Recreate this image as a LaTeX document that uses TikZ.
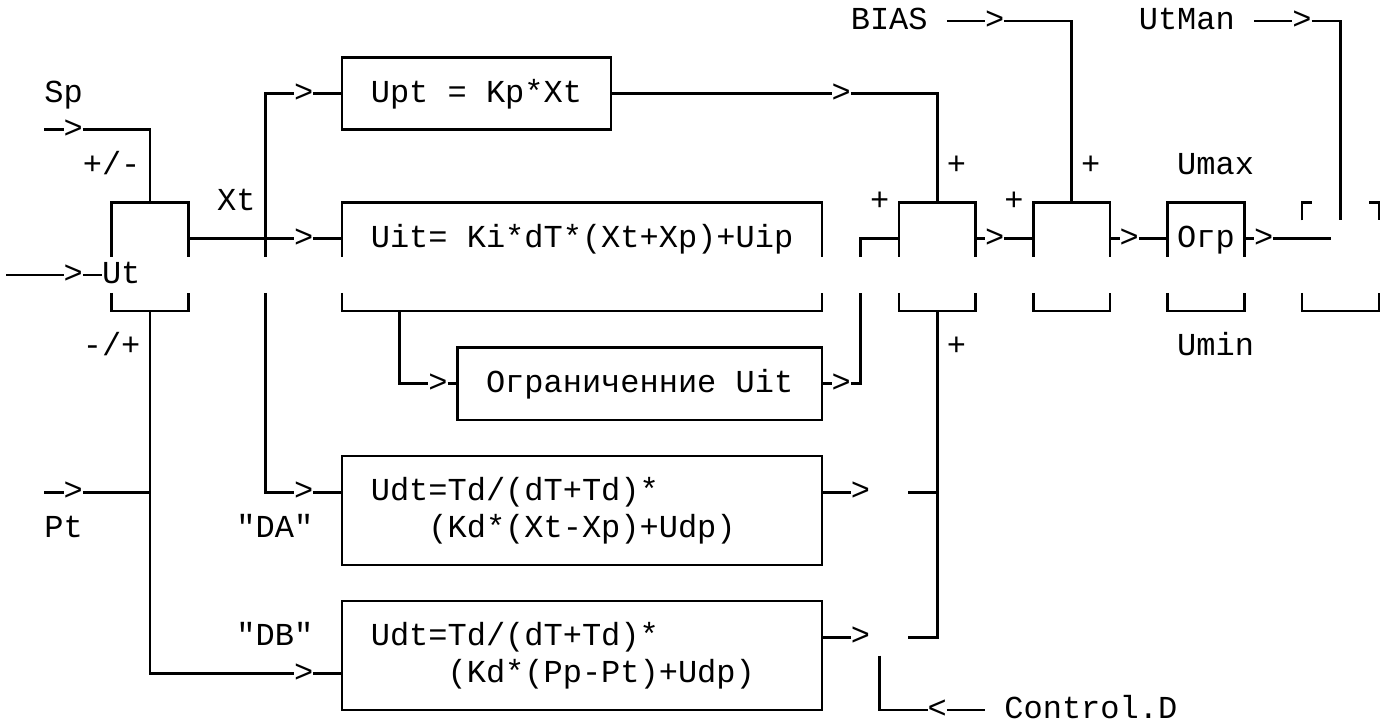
\documentclass[tikz,border=0pt]{standalone}
\usepackage{fontspec}
\newfontfamily\mono{Liberation Mono}
\begin{document}
\begin{tikzpicture}[x=19.2pt,y=-36.26pt,
  ln/.style={line width=2.6pt},
  txt/.style={font=\mono\fontsize{32pt}{36.26pt}\selectfont, inner sep=0pt, outer sep=0pt,
              anchor=west, text height=17.06pt, text depth=0pt},
  arr/.style={txt, anchor=center},
  blk/.style={draw, line width=2.6pt, inner sep=0pt, outer sep=0pt},
  cw/.style={minimum width=#1*19.2pt},
  rh/.style={minimum height=#1*36.26pt}]
\useasboundingbox (-0.8125,-0.579) rectangle (71.74,19.388);

% ---- blocks with full outline
\node[blk,cw=14,rh=2] (upt)  at (24,2)    {};
\node[blk,cw=19,rh=2] (lim)  at (32.5,10) {};
\node[blk,cw=25,rh=3] (udta) at (29.5,13.5) {};
\node[blk,cw=25,rh=3] (udtb) at (29.5,17.5) {};

% ---- texts
\node[txt] (tbias)  at (43.5,0) {BIAS};
\node[txt] (tutman) at (58.5,0) {UtMan};
\node[txt] (tsp)    at (1.5,2)  {Sp};
\node[txt] (tupt)   at (18.5,2) {Upt = Kp*Xt};
\node[txt] (tpm)    at (3.5,4)  {+/-};
\node[txt] (tp1)    at (48.5,4) {+};
\node[txt] (tp2)    at (55.5,4) {+};
\node[txt] (tumax)  at (60.5,4) {Umax};
\node[txt] (txt)    at (10.5,5) {Xt};
\node[txt] (tp3)    at (44.5,5) {+};
\node[txt] (tp4)    at (51.5,5) {+};
\node[txt] (tuit)   at (18.5,6) {Uit= Ki*dT*(Xt+Xp)+Uip};
\node[txt] (togr)   at (60.5,6) {Огр};
\node[txt] (tut)    at (4.5,7)  {Ut};
\node[txt] (tmp)    at (3.5,9)  {-/+};
\node[txt] (tp5)    at (48.5,9) {+};
\node[txt] (tumin)  at (60.5,9) {Umin};
\node[txt] (tlim)   at (24.5,10) {Ограниченние Uit};
\node[txt] (tudta1) at (18.5,13) {Udt=Td/(dT+Td)*};
\node[txt] (tpt)    at (1.5,14) {Pt};
\node[txt] (tda)    at (11.5,14) {"DA"};
\node[txt] (tudta2) at (21.5,14) {(Kd*(Xt-Xp)+Udp)};
\node[txt] (tdb)    at (11.5,17) {"DB"};
\node[txt] (tudtb1) at (18.5,17) {Udt=Td/(dT+Td)*};
\node[txt] (tudtb2) at (22.5,18) {(Kd*(Pp-Pt)+Udp)};
\node[txt] (tctl)   at (51.5,19) {Control.D};

% ---- arrow glyphs
\node[arr] (a1)  at (3,3)   {>};
\node[arr] (a2)  at (3,7)   {>};
\node[arr] (a3)  at (15,2)  {>};
\node[arr] (a4)  at (15,6)  {>};
\node[arr] (a5)  at (15,13) {>};
\node[arr] (a6)  at (3,13)  {>};
\node[arr] (a7)  at (15,18) {>};
\node[arr] (a8)  at (43,2)  {>};
\node[arr] (a9)  at (51,0)  {>};
\node[arr] (a10) at (67,0)  {>};
\node[arr] (a11) at (22,10) {>};
\node[arr] (a12) at (43,10) {>};
\node[arr] (a13) at (51,6)  {>};
\node[arr] (a14) at (58,6)  {>};
\node[arr] (a15) at (65,6)  {>};
\node[arr] (a16) at (44,13) {>};
\node[arr] (a17) at (44,17) {>};
\node[arr] (a18) at (48,19) {<};

% ---- blocks with open sides (gap on row 7)
\draw[ln] (5,6.5) -- (5,5) -- (9,5) -- (9,6.5);
\draw[ln] (5,7.5) -- (5,8) -- (9,8) -- (9,7.5);
\draw[ln] (17,6.5) -- (17,5) -- (42,5) -- (42,6.5);
\draw[ln] (17,7.5) -- (17,8) -- (42,8) -- (42,7.5);
\draw[ln] (46,6.5) -- (46,5) -- (50,5) -- (50,6.5);
\draw[ln] (46,7.5) -- (46,8) -- (50,8) -- (50,7.5);
\draw[ln] (53,6.5) -- (53,5) -- (57,5) -- (57,6.5);
\draw[ln] (53,7.5) -- (53,8) -- (57,8) -- (57,7.5);
\draw[ln] (60,6.5) -- (60,5) -- (64,5) -- (64,6.5);
\draw[ln] (60,7.5) -- (60,8) -- (64,8) -- (64,7.5);
\draw[ln] (67,5.5) -- (67,5) -- (67.5,5);
\draw[ln] (70.5,5) -- (71,5) -- (71,5.5);
\draw[ln] (67,7.5) -- (67,8) -- (71,8) -- (71,7.5);

% ---- connectors
% Sp
\draw[ln] (1.5,3) -- (a1.west);
\draw[ln] (a1.east) -- (7,3) -- (7,5);
% Ut
\draw[ln] (-0.5,7) -- (a2.west);
\draw[ln] (a2.east) -- (tut.west);
% Xt distribution
\draw[ln] (9,6) -- (a4.west);
\draw[ln] (a4.east) -- (17,6);
\draw[ln] (a3.west) -- (13,2) -- (13,6.5);
\draw[ln] (13,7.5) -- (13,13) -- (a5.west);
\draw[ln] (a3.east) -- (upt.west);
\draw[ln] (a5.east) -- (17,13);
% P branch
\draw[ln] (upt.east) -- (a8.west);
\draw[ln] (a8.east) -- (48,2) -- (48,5);
% I limit branch
\draw[ln] (20,8) -- (20,10) -- (a11.west);
\draw[ln] (a11.east) -- (lim.west);
\draw[ln] (lim.east) -- (a12.west);
\draw[ln] (a12.east) -- (44,10) -- (44,7.5);
\draw[ln] (44,6.5) -- (44,6) -- (46,6);
% sums and limiter
\draw[ln] (50,6) -- (a13.west);
\draw[ln] (a13.east) -- (53,6);
\draw[ln] (48.5,0) -- (a9.west);
\draw[ln] (a9.east) -- (55,0) -- (55,5);
\draw[ln] (57,6) -- (a14.west);
\draw[ln] (a14.east) -- (60,6);
\draw[ln] (64,6) -- (a15.west);
\draw[ln] (a15.east) -- (68.5,6);
\draw[ln] (64.5,0) -- (a10.west);
\draw[ln] (a10.east) -- (69,0) -- (69,5.5);
% D branches
\draw[ln] (48,8) -- (48,17) -- (46.5,17);
\draw[ln] (46.5,13) -- (48,13);
\draw[ln] (42,13) -- (a16.west);
\draw[ln] (42,17) -- (a17.west);
\draw[ln] (7,8) -- (7,18) -- (a7.west);
\draw[ln] (a7.east) -- (17,18);
\draw[ln] (1.5,13) -- (a6.west);
\draw[ln] (a6.east) -- (7,13);
\draw[ln] (45,17.5) -- (45,19) -- (a18.west);
\draw[ln] (a18.east) -- (50.5,19);
\end{tikzpicture}
\end{document}
